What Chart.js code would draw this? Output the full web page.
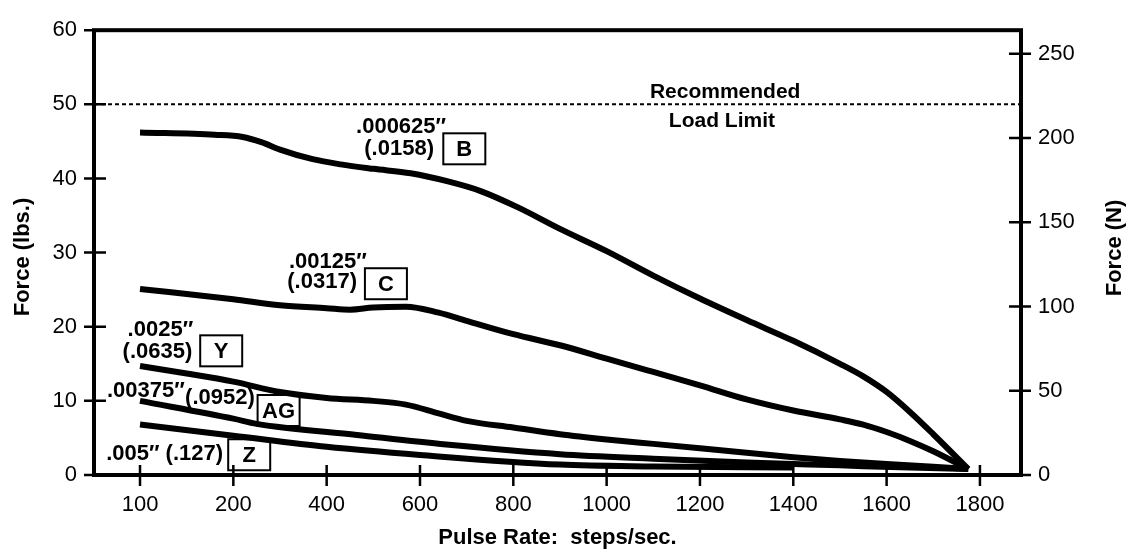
<!DOCTYPE html>
<html>
<head>
<meta charset="utf-8">
<script src="https://cdn.jsdelivr.net/npm/chart.js@4.4.0/dist/chart.umd.min.js"></script>
<style>
  html, body { margin: 0; padding: 0; background: #fff; }
  #wrap { width: 1131px; height: 553px; }
</style>
</head>
<body>
<div id="wrap"><canvas id="forceChart" width="1131" height="553"></canvas></div>
<script>
// x ticks sit evenly apart even though the steps are not (100 -> 200 -> 400 ...)
const rateTicks = [100, 200, 400, 600, 800, 1000, 1200, 1400, 1600, 1800];
const lbsTicks = [0, 10, 20, 30, 40, 50, 60];
const newtonTicks = [0, 50, 100, 150, 200, 250];
const loadLimit = 50;

// B  .000625" (.0158)
const rateB = [100, 180, 220, 260, 300, 370, 430, 500, 580, 660, 730, 810, 900, 1000, 1100, 1200, 1300, 1400, 1500, 1550, 1600, 1650, 1700, 1775];
const forceB = [46.2, 45.9, 45.6, 44.9, 43.9, 42.6, 41.9, 41.3, 40.7, 39.6, 38.3, 36.1, 33.2, 30.2, 26.9, 23.8, 20.9, 18.1, 15.0, 13.3, 11.2, 8.5, 5.5, 0.8];
// C  .00125" (.0317)
const rateC = [100, 200, 300, 400, 450, 500, 570, 640, 700, 800, 900, 1000, 1100, 1200, 1300, 1400, 1500, 1550, 1600, 1650, 1700, 1775];
const forceC = [25.1, 23.7, 22.9, 22.5, 22.3, 22.6, 22.7, 21.9, 20.8, 19.0, 17.5, 15.7, 13.9, 12.1, 10.2, 8.7, 7.5, 6.8, 5.8, 4.6, 3.2, 0.8];
// Y  .0025" (.0635)
const rateY = [100, 150, 200, 300, 400, 500, 570, 640, 700, 800, 900, 1000, 1100, 1200, 1300, 1400, 1500, 1600, 1700, 1775];
const forceY = [14.7, 13.7, 12.6, 11.2, 10.4, 10.0, 9.5, 8.3, 7.3, 6.4, 5.5, 4.8, 4.2, 3.6, 3.0, 2.4, 1.9, 1.5, 1.1, 0.8];
// AG .00375" (.0952)
const rateAG = [100, 200, 250, 465, 656, 900, 1100, 1300, 1500, 1650, 1775];
const forceAG = [10.0, 7.6, 6.9, 5.4, 4.1, 2.8, 2.2, 1.7, 1.3, 1.0, 0.8];
// Z  .005" (.127)
const rateZ = [100, 200, 400, 600, 900, 1100, 1400];
const forceZ = [6.8, 5.3, 3.8, 2.7, 1.4, 1.15, 1.0];

// pulse rate -> position on the evenly spaced tick axis
function toPos(rate) {
  let i = 0;
  while (i < rateTicks.length - 2 && rate > rateTicks[i + 1]) i++;
  return i + (rate - rateTicks[i]) / (rateTicks[i + 1] - rateTicks[i]);
}

const xMin = -0.493;
const xMax = 9.44;

const curve = (rates, forces) => rates.map((r, i) => ({ x: toPos(r), y: forces[i] }));

const lineStyle = {
  borderColor: "#000",
  borderWidth: 6,
  pointRadius: 0,
  cubicInterpolationMode: "monotone",
  fill: false,
};

const datasets = [
  { label: "B", data: curve(rateB, forceB), ...lineStyle },
  { label: "C", data: curve(rateC, forceC), ...lineStyle },
  { label: "Y", data: curve(rateY, forceY), ...lineStyle },
  { label: "AG", data: curve(rateAG, forceAG), ...lineStyle },
  { label: "Z", data: curve(rateZ, forceZ), ...lineStyle },
  {
    label: "limit",
    data: [{ x: xMin, y: loadLimit }, { x: xMax, y: loadLimit }],
    borderColor: "#000",
    borderWidth: 2,
    borderDash: [4, 3],
    pointRadius: 0,
  },
];

// labels next to the curves, anchored in data units
const notes = [
  { text: ".000625\u2033", rate: 656, lbs: 47.0 },
  { text: "(.0158)", rate: 630, lbs: 44.0 },
  { text: ".00125\u2033", rate: 486, lbs: 28.8 },
  { text: "(.0317)", rate: 465, lbs: 26.0 },
  { text: ".0025\u2033", rate: 157, lbs: 19.6 },
  { text: "(.0635)", rate: 156, lbs: 16.6 },
  { text: ".00375\u2033", rate: 148, lbs: 11.4 },
  { text: "(.0952)", rate: 246, lbs: 10.4 },
  { text: ".005\u2033 (.127)", rate: 189, lbs: 2.86 },
];
const tags = [
  { tag: "B", rate: 695, lbs: 44.0 },
  { tag: "C", rate: 527, lbs: 25.8 },
  { tag: "Y", rate: 187, lbs: 16.75 },
  { tag: "AG", rate: 297, lbs: 8.7 },
  { tag: "Z", rate: 234, lbs: 2.73 },
];
const limitText = [
  { text: "Recommended", rate: 1254, lbs: 51.6 },
  { text: "Load Limit", rate: 1247, lbs: 47.7 },
];

const FONT = '"Liberation Sans", Arial, sans-serif';

const framePlugin = {
  id: "frame",
  afterDraw(chart) {
    const ctx = chart.ctx;
    const { left, right, top, bottom } = chart.chartArea;
    const sx = chart.scales.x, sy = chart.scales.y, sy2 = chart.scales.y2;
    ctx.save();
    ctx.strokeStyle = "#000";
    ctx.fillStyle = "#000";

    // box round the plot
    ctx.lineWidth = 4;
    ctx.strokeRect(left, top, right - left, bottom - top);

    // tick marks cross the axis lines
    ctx.lineWidth = 2.5;
    ctx.beginPath();
    rateTicks.forEach((v, i) => {
      const px = sx.getPixelForValue(i);
      ctx.moveTo(px, bottom - 10);
      ctx.lineTo(px, bottom + 11);
    });
    lbsTicks.forEach((v) => {
      const py = sy.getPixelForValue(v);
      ctx.moveTo(left - 10, py);
      ctx.lineTo(left + 12, py);
    });
    newtonTicks.forEach((v) => {
      const py = sy2.getPixelForValue(v);
      ctx.moveTo(right - 12, py);
      ctx.lineTo(right + 10, py);
    });
    ctx.stroke();

    // curve labels
    ctx.font = "bold 22px " + FONT;
    ctx.textBaseline = "middle";
    ctx.textAlign = "right";
    notes.forEach((n) => {
      ctx.fillText(n.text, sx.getPixelForValue(toPos(n.rate)), sy.getPixelForValue(n.lbs));
    });
    ctx.textAlign = "center";
    ctx.lineWidth = 2;
    tags.forEach((t) => {
      const cx = sx.getPixelForValue(toPos(t.rate));
      const cy = sy.getPixelForValue(t.lbs);
      ctx.strokeRect(cx - 21, cy - 15.5, 42, 31);
      ctx.fillText(t.tag, cx, cy + 1);
    });
    ctx.font = "bold 21px " + FONT;
    limitText.forEach((n) => {
      ctx.fillText(n.text, sx.getPixelForValue(toPos(n.rate)), sy.getPixelForValue(n.lbs));
    });

    // axis titles
    ctx.font = "bold 22px " + FONT;
    ctx.textBaseline = "alphabetic";
    ctx.fillText("Pulse Rate:  steps/sec.", (left + right) / 2, 544);
    ctx.save();
    ctx.translate(28.5, 257);
    ctx.rotate(-Math.PI / 2);
    ctx.fillText("Force (lbs.)", 0, 0);
    ctx.restore();
    ctx.save();
    ctx.translate(1121, 248);
    ctx.rotate(-Math.PI / 2);
    ctx.fillText("Force (N)", 0, 0);
    ctx.restore();

    ctx.restore();
  },
};

const tickFont = { family: FONT, size: 22 };

new Chart(document.getElementById("forceChart"), {
  type: "line",
  data: { datasets },
  options: {
    responsive: false,
    animation: false,
    layout: { padding: { top: 13, left: 0, right: 0, bottom: 0 } },
    plugins: {
      legend: { display: false },
      tooltip: { enabled: false },
    },
    scales: {
      x: {
        type: "linear",
        min: xMin,
        max: xMax,
        afterBuildTicks: (s) => {
          s.ticks = rateTicks.map((v, i) => ({ value: i }));
        },
        ticks: {
          callback: (v) => rateTicks[Math.round(v)],
          padding: 17,
          color: "#000",
          font: tickFont,
          autoSkip: false,
          maxRotation: 0,
        },
        grid: { display: false, drawTicks: false },
        border: { display: false },
        afterFit: (s) => {
          s.height = 78;
        },
      },
      y: {
        position: "left",
        min: 0,
        max: 60,
        afterBuildTicks: (s) => {
          s.ticks = lbsTicks.map((v) => ({ value: v }));
        },
        ticks: { padding: 17, color: "#000", font: tickFont },
        grid: { display: false, drawTicks: false },
        border: { display: false },
        afterFit: (s) => {
          s.width = 94;
        },
      },
      y2: {
        position: "right",
        min: 0,
        max: 264,
        afterBuildTicks: (s) => {
          s.ticks = newtonTicks.map((v) => ({ value: v }));
        },
        ticks: { padding: 17, color: "#000", font: tickFont },
        grid: { display: false, drawTicks: false },
        border: { display: false },
        afterFit: (s) => {
          s.width = 110;
        },
      },
    },
  },
  plugins: [framePlugin],
});
</script>
</body>
</html>
